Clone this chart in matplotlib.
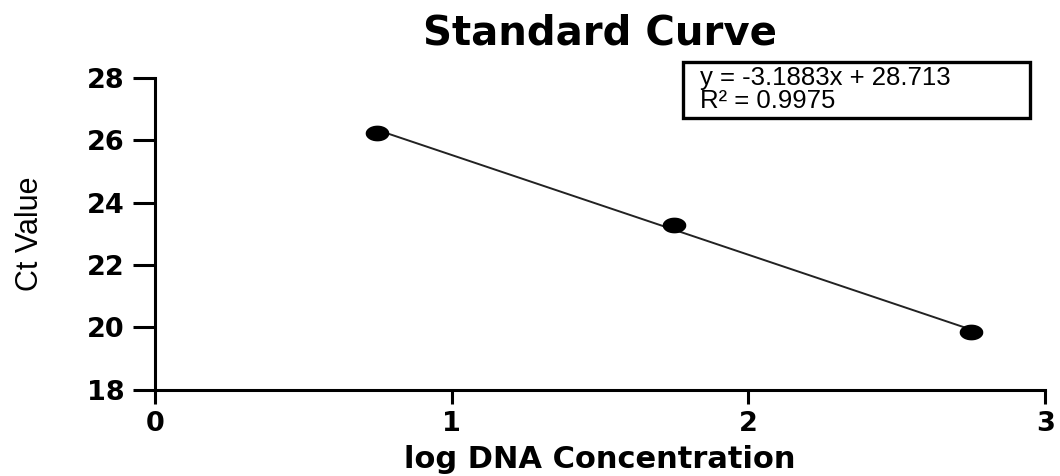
import numpy as np
import matplotlib
matplotlib.use("Agg")
import matplotlib.pyplot as plt
from matplotlib.patches import Rectangle

log_conc = [0.75, 1.75, 2.75]
ct_value = [26.25, 23.3, 19.85]
x_ticks = [0, 1, 2, 3]
y_ticks = [18, 20, 22, 24, 26, 28]
eq_lines = ["y = -3.1883x + 28.713", "R\u00b2 = 0.9975"]

plt.rcParams['font.family'] = ['Liberation Sans', 'DejaVu Sans']

fig = plt.figure(figsize=(10.6, 4.76), dpi=100)
ax = fig.add_axes([0.146, 0.181, 0.840, 0.655])

# fit line
slope, icpt = np.polyfit(log_conc, ct_value, 1)
xs = np.array([min(log_conc), max(log_conc)])
ax.plot(xs, slope * xs + icpt, color='#222222', lw=1.4, zorder=2)

# the picture is stretched sideways, so the dots are ellipses
t = np.linspace(0, 2 * np.pi, 60)
ell = np.c_[1.55 * np.cos(t), np.sin(t)]
ax.plot(log_conc, ct_value, ls='none', marker=ell, ms=16, color='black', zorder=3)

ax.set_xlim(0, 3)
ax.set_ylim(18, 28)
ax.set_xticks(x_ticks)
ax.set_yticks(y_ticks)
for s in ['top', 'right']:
    ax.spines[s].set_visible(False)
for s in ['left', 'bottom']:
    ax.spines[s].set_linewidth(2.2)
ax.tick_params(width=2.2, labelsize=19.5)
ax.tick_params(axis='y', length=16, pad=6)
ax.tick_params(axis='x', length=10, pad=5)
for lab in ax.get_xticklabels() + ax.get_yticklabels():
    lab.set_fontweight('bold')
    lab.set_family(['DejaVu Sans'])

ax.set_title("Standard Curve", fontsize=29, fontweight='bold', pad=24, family=['DejaVu Sans'])
ax.set_xlabel("log DNA Concentration", fontsize=22, fontweight='bold', labelpad=6, family=['DejaVu Sans'])
ax.set_ylabel("Ct Value", fontsize=22, labelpad=30)

# equation box
ax.add_patch(Rectangle((0.593, 0.872), 0.390, 0.179, transform=ax.transAxes, fill=True,
                       facecolor='white', edgecolor='black', lw=2.4, clip_on=False, zorder=4))
ax.text(0.612, 1.0, eq_lines[0], transform=ax.transAxes, fontsize=18.5, va='center', ha='left', zorder=5)
ax.text(0.612, 0.925, eq_lines[1], transform=ax.transAxes, fontsize=18.5, va='center', ha='left', zorder=5)

fig.savefig("out.png", dpi=100)
